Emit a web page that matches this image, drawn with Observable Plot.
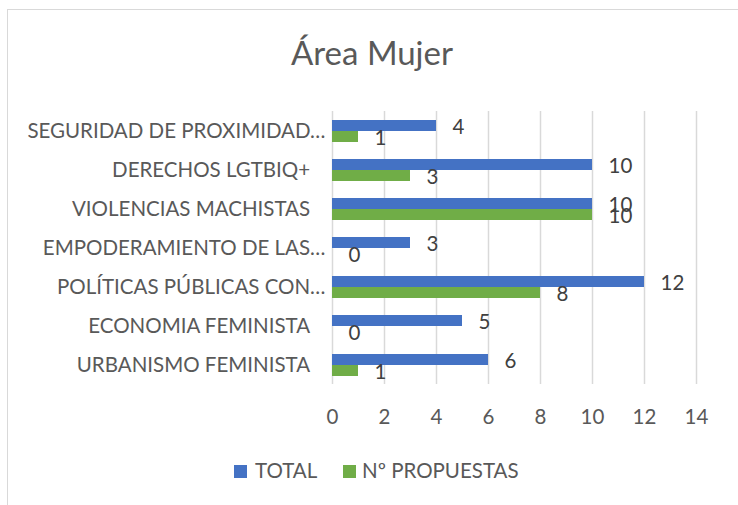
<!DOCTYPE html>
<html>
<head>
<meta charset="utf-8">
<script src="https://cdn.jsdelivr.net/npm/d3@7"></script>
<script src="https://cdn.jsdelivr.net/npm/@observablehq/plot@0.6"></script>
<style>
  body { margin: 0; background: #fff; font-family: Lato, "Open Sans", sans-serif; }
  #page { position: relative; width: 738px; height: 505px; overflow: hidden; }
  #frame { position: absolute; left: 7px; top: 9px; width: 740px; height: 520px; border: 1px solid #d9d9d9; box-sizing: border-box; }
  #title { position: absolute; left: 7px; width: 730px; top: 36px; text-align: center; font-size: 33px; line-height: 33px; color: #595959; }
  #chart { position: absolute; left: 0; top: 100px; }
  .lg { position: absolute; font-size: 20.5px; line-height: 20px; color: #595959; white-space: nowrap; }
  .sw { position: absolute; width: 13px; height: 13px; }
</style>
</head>
<body>
<div id="page">
  <div id="frame"></div>
  <div id="title"></div>
  <div id="chart"></div>
  <div id="legend"></div>
</div>
<script>
const titleText = "Área Mujer";
const categories = [
  "SEGURIDAD DE PROXIMIDAD…",
  "DERECHOS LGTBIQ+",
  "VIOLENCIAS MACHISTAS",
  "EMPODERAMIENTO DE LAS…",
  "POLÍTICAS PÚBLICAS CON…",
  "ECONOMIA FEMINISTA",
  "URBANISMO FEMINISTA"
];
const seriesNames = ["TOTAL", "Nº PROPUESTAS"];
const totalValues = [4, 10, 10, 3, 12, 5, 6];
const propuestasValues = [1, 3, 10, 0, 8, 0, 1];
const seriesColors = ["#4472C4", "#70AD47"];
const xTicks = [0, 2, 4, 6, 8, 10, 12, 14];

const rows = [];
categories.forEach((c, i) => {
  rows.push({category: c, series: seriesNames[0], value: totalValues[i]});
  rows.push({category: c, series: seriesNames[1], value: propuestasValues[i]});
});

document.getElementById("title").textContent = titleText;

const chart = Plot.plot({
  width: 738,
  height: 345,
  marginTop: 9,
  marginBottom: 59,
  marginLeft: 332,
  marginRight: 42,
  style: {fontFamily: "Lato, 'Open Sans', sans-serif", fontSize: "20.5px", color: "#595959", background: "transparent"},
  x: {domain: [0, 14]},
  y: {domain: seriesNames, paddingInner: 0, paddingOuter: 0.65, axis: null},
  fy: {domain: categories, padding: 0},
  color: {domain: seriesNames, range: seriesColors},
  marks: [
    Plot.gridX(xTicks, {stroke: "#d9d9d9", strokeOpacity: 1, strokeWidth: 1.5}),
    Plot.axisX(xTicks, {tickSize: 0, tickPadding: 25, label: null}),
    Plot.axisFy({anchor: "left", tickSize: 0, tickPadding: 7, label: null,
      tickFormat: d => d.endsWith("…") ? d : d + "\u2003"}),
    Plot.barX(rows, {fy: "category", y: "series", x: "value", fill: "series"}),
    Plot.text(rows, {fy: "category", y: "series", x: "value", text: d => String(d.value),
      textAnchor: "start", dx: 16, dy: 1.5, fill: "#404040", fontSize: 20.5})
  ]
});
document.getElementById("chart").appendChild(chart);

const legend = document.getElementById("legend");
const legendPos = [{sw: 234, tx: 255}, {sw: 343, tx: 362}];
seriesNames.forEach((s, i) => {
  const sw = document.createElement("div");
  sw.className = "sw";
  sw.style.left = legendPos[i].sw + "px";
  sw.style.top = "465px";
  sw.style.background = seriesColors[i];
  legend.appendChild(sw);
  const t = document.createElement("div");
  t.className = "lg";
  t.style.left = legendPos[i].tx + "px";
  t.style.top = "460px";
  t.textContent = s;
  legend.appendChild(t);
});
</script>
</body>
</html>
